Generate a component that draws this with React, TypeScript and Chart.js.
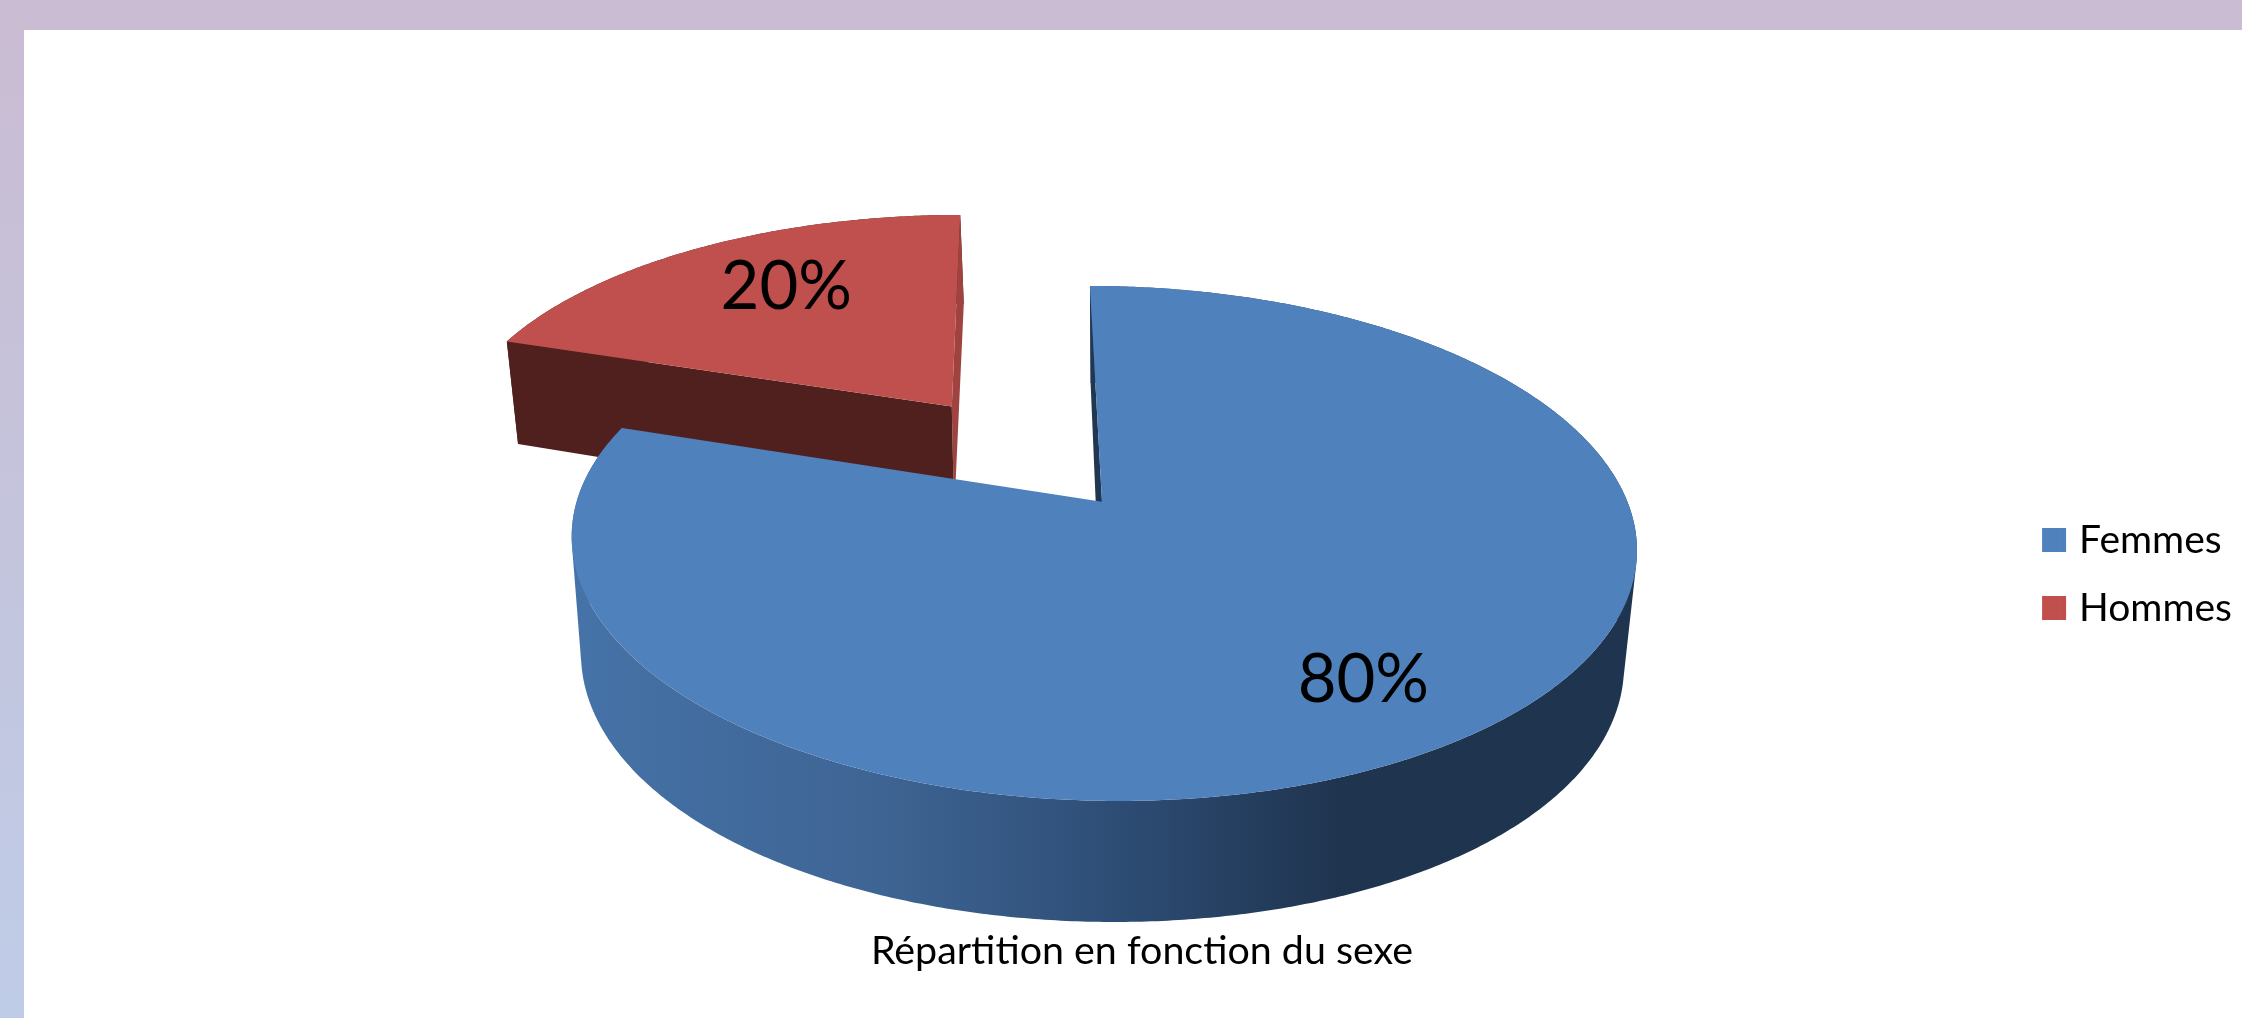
import React, { useEffect, useRef } from "react";
import { Chart, registerables } from "chart.js";

Chart.register(...registerables);

const categories = ["Femmes", "Hommes"];
const shares = [80, 20];
const sliceColors = ["#4f81bd", "#c0504d"];
const explode = [0, 0.5];
const titleText = "Répartition en fonction du sexe";
const fontFamily = "Lato, Carlito, 'Open Sans', sans-serif";

// Perspective of the pie's top face and of its base, in page pixels.
const TOP = { x0: 1102, y0: 501.7, w: 525.4, s: 14, h: 250.7, kx: 0.1623, ky: 0.1623 };
const BASE = { x0: 1100.6, y0: 616.1, w: 514.7, s: 11.6, h: 264.6, kx: 0.16, ky: 0.135 };

type Plane = typeof TOP;
type Pt = [number, number];
const project = (p: Plane, u: number, v: number): Pt => [
  p.x0 + (p.w * u + p.s * v) / (1 - p.kx * v),
  p.y0 + (p.h * v) / (1 - p.ky * v),
];

const labelRadial = 0.75;
const labelNudge: Pt[] = [
  [-5, 9.5],
  [28, 3],
];

const LEGEND_NATIVE_BOX = 17.5;
const LEGEND_SWATCH = 24;

const pie3d = {
  id: "pie3d",
  beforeDatasetsDraw(chart: any) {
    const ctx: CanvasRenderingContext2D = chart.ctx;
    const arcs = chart.getDatasetMeta(0).data;
    const total = shares.reduce((a, b) => a + b, 0);

    const slice = (i: number) => {
      const el = arcs[i];
      const a0 = el.startAngle;
      const a1 = el.endAngle;
      const mid = (a0 + a1) / 2;
      const cu = Math.cos(mid) * explode[i];
      const cv = Math.sin(mid) * explode[i];
      const n = Math.ceil(((a1 - a0) * 180) / Math.PI) * 2;
      const rim: Pt[] = [];
      for (let k = 0; k <= n; k++) {
        const a = a0 + ((a1 - a0) * k) / n;
        rim.push([cu + Math.cos(a), cv + Math.sin(a)]);
      }
      return { cu, cv, rim, mid };
    };

    const trace = (pts: Pt[]) => {
      pts.forEach((p, k) => (k ? ctx.lineTo(p[0], p[1]) : ctx.moveTo(p[0], p[1])));
      ctx.closePath();
    };

    const poly = (pts: Pt[], fill: string | CanvasGradient) => {
      ctx.beginPath();
      trace(pts);
      ctx.fillStyle = fill;
      ctx.fill();
    };

    const quad = (a: Pt, b: Pt): Pt[] => [
      project(TOP, a[0], a[1]),
      project(TOP, b[0], b[1]),
      project(BASE, b[0], b[1]),
      project(BASE, a[0], a[1]),
    ];

    const face = (a: Pt, b: Pt, fill: string) => poly(quad(a, b), fill);

    // All rim quads go in one path, wound the same way, so they merge without seams.
    const wall = (rim: Pt[], fill: string | CanvasGradient) => {
      ctx.beginPath();
      for (let k = 0; k + 1 < rim.length; k++) {
        const q = quad(rim[k], rim[k + 1]);
        let area = 0;
        q.forEach((p, j) => {
          const r = q[(j + 1) % 4];
          area += p[0] * r[1] - r[0] * p[1];
        });
        trace(area < 0 ? q.reverse() : q);
      }
      ctx.fillStyle = fill;
      ctx.fill();
    };

    const top = (s: ReturnType<typeof slice>, fill: string) =>
      poly([project(TOP, s.cu, s.cv), ...s.rim.map(([u, v]) => project(TOP, u, v))], fill);

    ctx.save();

    // Hommes: exploded slice, behind
    const red = slice(1);
    const redC: Pt = [red.cu, red.cv];
    wall(red.rim, "#4f201e");
    face(redC, red.rim[red.rim.length - 1], "#9e4340");
    face(redC, red.rim[0], "#4f201e");
    top(red, sliceColors[1]);

    // Femmes
    const blue = slice(0);
    const grad = ctx.createLinearGradient(583, 0, 1340, 0);
    grad.addColorStop(0, "#4572a7");
    grad.addColorStop(0.4, "#3e6493");
    grad.addColorStop(0.68, "#2f4f78");
    grad.addColorStop(1, "#1f344f");
    wall(blue.rim, grad);
    face([blue.cu, blue.cv], blue.rim[0], "#1f3751");
    top(blue, sliceColors[0]);

    // Percent labels
    ctx.fillStyle = "#000";
    ctx.font = `67px ${fontFamily}`;
    ctx.textAlign = "center";
    ctx.textBaseline = "middle";
    [blue, red].forEach((s, i) => {
      const [x, y] = project(
        TOP,
        s.cu + Math.cos(s.mid) * labelRadial,
        s.cv + Math.sin(s.mid) * labelRadial
      );
      const pct = Math.round((shares[i] / total) * 100);
      ctx.fillText(`${pct}%`, x + labelNudge[i][0], y + labelNudge[i][1]);
    });
    ctx.restore();
    return false;
  },
  afterDraw(chart: any) {
    // Widen the legend swatches to the full square, keeping the tight text gap.
    const ctx: CanvasRenderingContext2D = chart.ctx;
    const fontSize = chart.options.plugins.legend.labels.font.size;
    chart.legend.legendHitBoxes.forEach((hit: any, i: number) => {
      ctx.fillStyle = sliceColors[i];
      ctx.fillRect(
        hit.left + LEGEND_NATIVE_BOX - 0.5,
        hit.top + (fontSize - LEGEND_SWATCH) / 2,
        LEGEND_SWATCH - LEGEND_NATIVE_BOX + 0.5,
        LEGEND_SWATCH
      );
    });
  },
};

export default function App() {
  const ref = useRef<HTMLCanvasElement>(null);
  useEffect(() => {
    const chart = new Chart(ref.current!, {
      type: "pie",
      data: {
        labels: categories,
        datasets: [{ data: shares, backgroundColor: sliceColors, borderWidth: 0 }],
      },
      options: {
        animation: false,
        responsive: false,
        devicePixelRatio: 1,
        events: [],
        layout: { padding: { top: 173, bottom: 43, left: 42, right: 0 } },
        plugins: {
          tooltip: { enabled: false },
          title: {
            display: true,
            text: titleText,
            position: "bottom",
            color: "#000",
            padding: 0,
            font: { family: fontFamily, size: 39.4, weight: "normal" },
          },
          legend: {
            position: "right",
            labels: {
              boxWidth: LEGEND_NATIVE_BOX,
              boxHeight: LEGEND_SWATCH,
              padding: 29,
              color: "#000",
              font: { family: fontFamily, size: 39 },
            },
          },
        },
      },
      plugins: [pie3d],
    } as any);
    return () => chart.destroy();
  }, []);
  return (
    <div
      style={{
        position: "fixed",
        left: 0,
        top: 0,
        width: 2242,
        height: 1018,
        overflow: "hidden",
        background: "linear-gradient(180deg, #cabcd2 0%, #c4c4dc 50%, #bfcce8 100%)",
      }}
    >
      <div style={{ position: "absolute", left: 24, top: 30, right: 0, bottom: 0, background: "#fff" }} />
      <canvas ref={ref} width={2242} height={1018} style={{ position: "absolute", left: 0, top: 0 }} />
    </div>
  );
}
